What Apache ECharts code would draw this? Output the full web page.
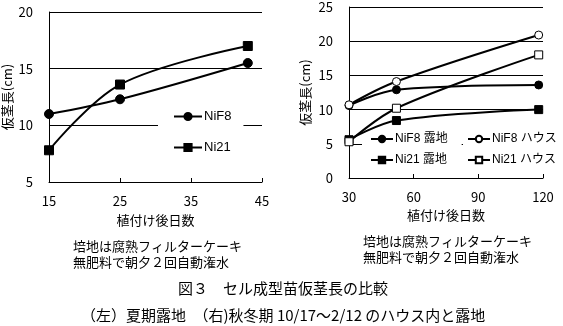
<!DOCTYPE html>
<html><head><meta charset="utf-8">
<script src="https://cdn.jsdelivr.net/npm/echarts@6/dist/echarts.min.js"></script>
<style>html,body{margin:0;padding:0;background:#fff}#c{width:563px;height:326px}</style>
</head><body><div id="c"></div>
<script>
// Left chart: summer, open field
const leftDays = [15, 25, 43];
const leftNiF8 = [11.0, 12.3, 15.5];
const leftNi21 = [7.8, 13.6, 17.0];
const leftXTicks = [15, 25, 35, 45];
const leftYTicks = [5, 10, 15, 20];
// Right chart: autumn-winter, house vs open field
const rightDays = [30, 52, 118];
const rightNiF8Field = [10.6, 12.9, 13.6];
const rightNiF8House = [10.7, 14.1, 20.9];
const rightNi21Field = [5.6, 8.4, 10.0];
const rightNi21House = [5.3, 10.2, 18.0];
const rightXTicks = [30, 60, 90, 120];
const rightYTicks = [0, 5, 10, 15, 20, 25];

const yName = '仮茎長(cm)';
const xName = '植付け後日数';
const noteLine1 = '培地は腐熟フィルターケーキ';
const noteLine2 = '無肥料で朝夕２回自動潅水';
const title = '図３　セル成型苗仮茎長の比較';
const subtitle = '（左）夏期露地　（右)秋冬期 10/17～2/12 のハウス内と露地';

const zip = (xs, ys) => xs.map((x, i) => [x, ys[i]]);
const JP = "'Noto Sans CJK JP', sans-serif";
const LAT = "'Liberation Sans', 'Noto Sans CJK JP', sans-serif";
const black = '#000';

function xAxis(gi, ticks, nameGap) {
  return {
    type: 'value', gridIndex: gi, min: ticks[0], max: ticks[ticks.length - 1],
    interval: ticks[1] - ticks[0],
    name: xName, nameLocation: 'middle', nameGap: nameGap,
    nameTextStyle: { color: black, fontSize: 13, fontFamily: JP },
    axisLine: { lineStyle: { color: black, width: 1 } },
    axisTick: { show: true, inside: true, length: 4, lineStyle: { color: black } },
    axisLabel: { color: black, fontSize: 13, fontFamily: JP, margin: 13 },
    splitLine: { show: false }
  };
}
function yAxis(gi, ticks, nameGap) {
  return {
    type: 'value', gridIndex: gi, min: ticks[0], max: ticks[ticks.length - 1],
    interval: ticks[1] - ticks[0],
    name: yName, nameLocation: 'middle', nameGap: nameGap, nameRotate: 90,
    nameTextStyle: { color: black, fontSize: 13, fontFamily: JP },
    axisLine: { show: true, lineStyle: { color: black, width: 1 } },
    axisTick: { show: false },
    axisLabel: { color: black, fontSize: 13, fontFamily: JP, margin: 16 },
    splitLine: { show: true, lineStyle: { color: black, width: 1 } }
  };
}
function line(name, xi, xs, ys, symbol, filled, size, z) {
  return {
    name: name, type: 'line', xAxisIndex: xi, yAxisIndex: xi,
    data: zip(xs, ys), smooth: 0.35, symbol: symbol, symbolSize: size,
    showAllSymbol: true, z: z,
    lineStyle: { color: black, width: 2 },
    itemStyle: { color: filled ? black : '#fff', borderColor: black, borderWidth: 1 },
    emphasis: { disabled: true }
  };
}
const legendText = (size) => ({ color: black, fontSize: size, fontFamily: LAT, padding: [0, 0, 0, -3] });

const chart = echarts.init(document.getElementById('c'), null, { renderer: 'canvas' });
chart.setOption({
  animation: false,
  backgroundColor: '#fff',
  grid: [
    { left: 49, top: 12, width: 213, height: 170 },
    { left: 349, top: 7, width: 194, height: 171 }
  ],
  xAxis: [xAxis(0, leftXTicks, 32), xAxis(1, rightXTicks, 30)],
  yAxis: [yAxis(0, leftYTicks, 35), yAxis(1, rightYTicks, 37)],
  legend: [
    { data: ['NiF8', 'Ni21'], orient: 'vertical', left: 158, top: 102, itemGap: 18,
      itemWidth: 28, itemHeight: 9, backgroundColor: '#fff', padding: [8, 12, 8, 15], z: 1,
      textStyle: legendText(13) },
    { data: ['NiF8 露地', 'Ni21 露地'], orient: 'vertical', left: 362, top: 127, itemGap: 9,
      itemWidth: 22, itemHeight: 8, backgroundColor: '#fff', padding: [6, 14, 6, 8], z: 1,
      textStyle: legendText(12) },
    { data: ['NiF8 ハウス', 'Ni21 ハウス'], orient: 'vertical', left: 463, top: 127, itemGap: 9,
      itemWidth: 22, itemHeight: 8, backgroundColor: '#fff', padding: [6, 20, 6, 4], z: 1,
      textStyle: legendText(12) }
  ],
  series: [
    line('NiF8', 0, leftDays, leftNiF8, 'circle', true, 9, 3),
    line('Ni21', 0, leftDays, leftNi21, 'rect', true, 9, 3),
    line('NiF8 露地', 1, rightDays, rightNiF8Field, 'circle', true, 8, 3),
    line('Ni21 露地', 1, rightDays, rightNi21Field, 'rect', true, 8, 3),
    line('Ni21 ハウス', 1, rightDays, rightNi21House, 'rect', false, 8, 4),
    line('NiF8 ハウス', 1, rightDays, rightNiF8House, 'circle', false, 8, 5)
  ],
  graphic: [
    { type: 'text', left: 73, top: 240, style: { text: noteLine1, font: "13px " + JP, fill: black } },
    { type: 'text', left: 73, top: 256, style: { text: noteLine2, font: "13px " + JP, fill: black } },
    { type: 'text', left: 363, top: 235, style: { text: noteLine1, font: "13px " + JP, fill: black } },
    { type: 'text', left: 363, top: 251, style: { text: noteLine2, font: "13px " + JP, fill: black } },
    { type: 'text', left: 178, top: 281, style: { text: title, font: "15px " + JP, fill: black } },
    { type: 'text', left: 81, top: 308, style: { text: subtitle, font: "15px " + JP, fill: black } }
  ]
});
</script></body></html>
